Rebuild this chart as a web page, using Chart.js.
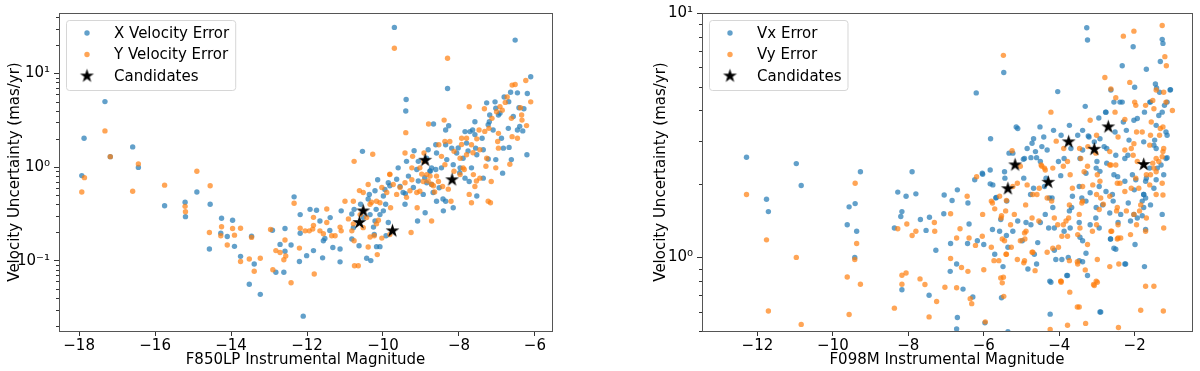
<!DOCTYPE html>
<html>
<head>
<meta charset="utf-8">
<script src="https://cdn.jsdelivr.net/npm/chart.js@4/dist/chart.umd.min.js"></script>
<style>
  html, body { margin: 0; padding: 0; background: #fff; overflow: hidden; }
  #wrap { position: relative; width: 1200px; height: 371px; }
  canvas { position: absolute; top: 0; }
  #c1 { left: 0; }
  #c2 { left: 600px; }
</style>
</head>
<body>
<div id="wrap">
  <canvas id="c1" width="600" height="371"></canvas>
  <canvas id="c2" width="600" height="371"></canvas>
</div>
<script>
const BLUE = 'rgba(31, 119, 180, 0.7)';
const ORANGE = 'rgba(255, 127, 14, 0.7)';
const FONT = "'DejaVu Sans', sans-serif";
const FS = 15;
const SUP = { '-1': '\u207b\u00b9', '0': '\u2070', '1': '\u00b9' };
const Y_TITLE = 'Velocity Uncertainty (mas/yr)';

// ---- left panel: F850LP ----
const f850XTicks = [-18, -16, -14, -12, -10, -8, -6];
const f850Labels = ['X Velocity Error', 'Y Velocity Error'];
const f850Vx = [
  [-17.93,0.81],[-17.87,2.03],[-17.32,5.0],[-17.18,1.29],[-16.59,1.64],[-16.44,0.99],[-15.75,0.386],[-15.21,0.42],
  [-15.2,0.295],[-14.9,0.54],[-14.55,0.40],[-14.57,0.133],[-14.25,0.283],[-14.27,0.196],[-14.1,0.181],[-13.96,0.27],
  [-13.91,0.142],[-13.75,0.111],[-13.46,0.182],[-13.39,0.092],[-13.52,0.056],[-13.23,0.0436],[-12.91,0.211],[-12.71,0.149],
  [-12.58,0.22],[-12.58,0.126],[-12.61,0.075],[-12.82,0.075],[-12.42,0.147],[-12.34,0.48],[-12.2,0.098],[-12.18,0.31],
  [-12.18,0.196],
  [-9.70,31],[-6.52,22.7],[-8.30,6.9],[-9.39,5.26],[-9.40,3.96],[-6.11,9.2],[-6.2,6.1],[-6.21,1.35],[-6.46,6.2],
  [-6.64,6.3],[-6.81,5.6],[-7.05,4.97],[-7.27,4.85],[-6.42,4.3],[-6.29,4.2],[-6.32,2.43],[-6.46,2.49],[-6.7,2.59],
  [-6.96,3.59],[-7.2,3.05],[-7.1,2.49],[-6.88,2.03],[-6.83,1.59],[-6.68,1.62],[-7.03,1.2],[-6.85,0.86],[-7.58,3.05],
  [-7.64,2.49],[-7.39,2.03],[-7.71,2.39],[-7.84,2.39],[-7.8,1.8],[-7.56,1.59],[-7.36,1.53],[-7.23,1.22],[-7.53,1.35],
  [-7.89,1.24],[-8.06,1.41],[-8.19,1.59],[-8.35,1.73],[-8.35,2.49],[-8.67,2.88],[-8.61,1.73],[-8.59,1.41],[-8.32,1.2],
  [-8.15,1.06],[-7.97,0.98],[-7.84,0.76],[-7.67,0.98],[-7.73,0.70],[-7.53,0.49],[-7.36,0.76],[-8.15,0.367],[-8.35,0.43],
  [-8.41,0.34],[-8.89,0.325],[-9.09,0.265],[-8.72,0.65],[-8.85,0.68],[-8.94,0.51],[-8.76,0.90],[-8.72,0.98],[-8.61,0.94],
  [-8.52,0.60],[-8.59,0.43],[-9.11,0.94],[-9.6,0.98],[-9.86,0.68],[-9.55,0.62],[-9.33,0.80],[-9.38,1.15],[-9.18,1.49],
  [-9.07,1.15],[-8.81,1.53],[-8.85,1.24],[-9.41,0.52],[-9.93,0.40],[-9.99,0.34],[-10.08,0.31],[-10.18,0.353],[-10.21,0.265],
  [-10.36,0.51],[-10.59,0.40],[-10.54,1.47],[-10.14,0.73],[-9.95,0.575],[-10.76,0.353],[-10.52,0.288],[-10.34,0.31],
  [-10.23,0.19],[-10.17,0.141],[-10.08,0.141],[-9.92,0.184],[-9.86,0.255],[-10.43,0.106],[-10.32,0.1],[-10.63,0.144],
  [-10.78,0.225],[-10.82,0.17],[-11.1,0.34],[-11.13,0.133],[-11.32,0.138],[-11.39,0.288],[-11.66,0.265],[-11.57,0.163],
  [-11.59,0.107],[-11.83,0.128],[-11.92,0.353],[-11.75,0.345],[-12.01,0.113],[-12.1,0.0255],
  [-6.69,4.99],[-7.03,4.25],[-7.19,3.6],[-6.92,3.76],[-6.57,3.47],[-6.4,2.72],[-7.23,2.83],[-7.58,2.22],[-8.02,1.6],
  [-7.76,1.48],[-8.46,0.98],[-8.42,0.455],[-8.27,2.76],[-6.62,1.2],[-7.98,0.87],
  [-11.4,0.21],[-11.53,0.172],[-10.82,0.315],[-10.39,0.455],[-9.99,0.49],[-9.82,0.63],[-9.64,0.74],[-9.47,0.535],
  [-9.42,0.40],[-9.2,0.605],[-9.07,0.71],[-8.9,0.77],[-8.76,0.91],[-8.68,0.535],[-10.21,0.557],[-10.25,0.228],[-11.13,0.097]
];
const f850Vy = [
  [-17.93,0.54],[-17.86,0.77],[-17.32,2.43],[-17.18,1.29],[-16.59,0.55],[-16.44,1.08],[-15.75,0.64],[-15.21,0.38],
  [-15.2,0.333],[-14.9,0.90],[-14.55,0.63],[-14.57,0.2],[-14.25,0.23],[-14.27,0.184],[-13.96,0.22],[-13.91,0.187],
  [-14.1,0.147],[-13.75,0.222],[-13.75,0.098],[-13.46,0.177],[-13.52,0.104],[-13.39,0.077],[-13.23,0.106],[-12.96,0.215],
  [-12.82,0.128],[-12.71,0.122],[-12.9,0.08],[-12.61,0.102],[-12.58,0.166],[-12.56,0.112],[-12.42,0.058],[-12.34,0.41],
  [-12.2,0.136],[-12.18,0.222],
  [-9.7,18.6],[-8.3,14.5],[-9.4,2.33],[-6.24,8.4],[-6.11,4.97],[-6.6,7.5],[-6.52,7.6],[-6.73,5.6],[-6.78,4.9],
  [-6.86,4.05],[-7.33,4.2],[-6.34,3.17],[-6.22,2.77],[-6.46,2.03],[-6.6,2.11],[-6.62,3.31],[-7.01,3.89],[-7.13,3.31],
  [-7.21,2.59],[-6.96,2.29],[-6.98,1.87],[-6.96,1.59],[-7.03,0.98],[-7.15,0.70],[-7.73,4.4],[-7.47,2.49],[-7.53,2.0],
  [-7.8,2.03],[-7.93,2.03],[-7.67,1.73],[-7.45,1.53],[-7.27,1.24],[-7.29,1.02],[-7.8,1.35],[-7.97,1.24],[-8.13,1.47],
  [-8.24,1.87],[-8.39,3.17],[-8.8,2.88],[-8.53,1.73],[-8.46,1.30],[-8.37,1.06],[-8.13,0.90],[-7.86,0.94],[-7.97,0.83],
  [-7.62,0.83],[-7.73,0.51],[-7.58,0.62],[-7.67,0.415],[-7.23,0.43],[-7.17,0.415],[-7.45,0.76],[-8.21,0.43],[-8.72,0.265],
  [-9.26,0.2],[-9.1,0.367],[-8.67,0.63],[-8.94,0.70],[-9.03,0.55],[-8.76,0.80],[-8.85,0.83],[-8.54,0.70],[-8.43,0.62],
  [-9.24,0.73],[-9.03,0.98],[-9.82,0.83],[-9.73,0.65],[-9.42,0.68],[-9.24,0.98],[-9.22,1.3],[-9.42,1.41],[-8.92,1.15],
  [-8.92,1.41],[-9.64,0.51],[-9.8,0.367],[-10.08,0.415],[-10.17,0.43],[-10.12,0.27],[-10.34,0.40],[-10.39,0.65],
  [-10.62,0.56],[-10.27,1.37],[-10.76,1.15],[-10.78,0.43],[-10.6,0.31],[-10.43,0.288],[-10.52,0.225],[-10.23,0.184],
  [-10.03,0.174],[-9.82,0.19],[-10.15,0.116],[-10.75,0.088],[-10.65,0.088],[-10.76,0.163],[-10.82,0.208],[-11.0,0.43],
  [-11.1,0.208],[-11.26,0.184],[-11.35,0.184],[-11.48,0.255],[-11.66,0.208],[-11.81,0.072],[-11.85,0.217],[-11.83,0.29],
  [-11.94,0.208],[-12.05,0.208],
  [-6.92,4.42],[-6.35,3.6],[-7.32,2.4],[-7.93,1.74],[-8.37,1.88],[-7.63,1.42],[-7.54,0.71],[-7.89,0.98],[-8.64,0.54],
  [-8.28,0.58],
  [-11.48,0.356],[-11.83,0.238],[-11.57,0.194],[-11.13,0.228],[-10.91,0.279],[-10.78,0.247],[-10.3,0.42],[-9.9,0.535],
  [-9.55,0.605],[-9.38,0.474],[-9.29,0.557],[-9.11,0.535],[-8.98,0.84],[-8.81,0.71],[-8.72,0.656],[-8.59,0.80],
  [-9.82,0.84],[-10.03,0.605],[-10.52,0.535],[-10.17,0.247],[-10.34,0.179],[-10.39,0.14],[-6.38,4.3],[-6.66,1.07]
];
const f850Cand = [[-10.52,0.339],[-10.62,0.255],[-9.75,0.208],[-8.89,1.18],[-8.18,0.73]];

// ---- right panel: F098M ----
const f098XTicks = [-12, -10, -8, -6, -4, -2];
const f098Labels = ['Vx Error', 'Vy Error'];
const f098Vx = [
  [-12.29,2.57],[-11.76,1.73],[-11.71,1.54],[-10.97,2.42],[-10.84,1.97],[-9.27,2.24],[-9.41,1.66],[-9.57,1.61],[-9.62,1.36],
  [-9.37,1.28],[-9.42,1.0],[-8.28,1.85],[-8.17,1.54],[-8.2,1.47],[-8.37,1.32],[-8.06,1.78],[-7.9,2.24],[-8.17,0.737],[-7.8,1.82],
  [-7.68,1.43],[-7.53,1.29],[-7.44,1.46],[-7.27,1.07],[-7.45,0.70],[-7.05,1.8],[-6.88,1.14],[-6.7,1.89],[-6.84,1.71],[-6.72,0.94],
  [-6.55,0.742],[-6.7,0.568],[-6.72,0.51],[-6.89,0.877],[-6.29,0.689],[-6.42,1.67],[-6.39,1.37],[-6.43,1.14],[-6.2,4.71],
  [-6.24,2.08],[-6.17,1.17],[-6.0,1.13],[-5.97,0.54],[-6.04,2.21],[-5.82,3.06],[-5.67,1.76],[-5.49,0.917],[-5.47,5.71],
  [-5.45,2.24],[-5.39,1.7],[-5.58,1.28],[-5.71,1.03],[-5.36,0.497],[-5.23,2.67],[-5.14,3.42],[-5.1,1.41],[-5.23,1.28],
  [-4.88,1.39],[-4.83,0.897],[-4.66,1.03],[-4.75,1.36],[-4.92,2.54],[-4.68,3.06],[-4.51,3.42],[-4.41,3.11],[-4.6,2.56],
  [-4.35,2.11],[-4.39,1.95],[-4.26,1.75],[-4.17,1.6],[-4.13,1.32],[-4.22,0.792],[-4.24,0.586],[-4.09,0.98],[-4.04,4.77],
  [-3.95,3.16],[-3.87,2.54],[-3.73,3.47],[-3.69,2.79],[-3.65,1.78],[-3.67,1.6],[-3.87,1.28],[-3.76,1.0],[-3.78,0.843],
  [-3.51,3.16],[-3.38,2.75],[-3.47,1.95],[-3.47,1.39],[-3.38,1.17],[-3.47,0.97],[-3.27,8.7],[-3.25,7.75],[-3.21,3.11],
  [-3.0,2.47],[-2.94,1.95],[-3.03,1.45],[-2.9,0.598],[-3.25,0.843],[-2.77,3.93],[-2.55,4.32],[-2.74,2.79],[-2.55,2.18],
  [-2.59,1.81],[-2.37,1.5],[-2.64,1.19],[-2.5,1.08],[-2.24,0.94],[-2.33,4.32],[-2.04,7.28],[-2.33,6.08],[-2.0,4.97],
  [-1.93,3.7],[-1.76,2.97],[-2.18,2.62],[-2.06,2.18],[-2.01,1.89],[-1.76,1.81],[-1.99,1.13],[-1.74,0.917],[-1.27,1.5],
  [-1.27,7.8],[-1.25,7.51],[-1.32,6.33],[-1.45,5.12],[-1.42,4.93],[-1.05,4.86],[-1.58,4.32],[-1.36,3.81],[-1.14,3.16],
  [-1.14,2.56],[-1.4,2.32],[-1.23,2.18],[-1.49,1.92],
  [-1.06,4.84],[-1.27,3.93],[-1.6,4.32],[-1.74,3.93],[-1.43,3.47],[-1.17,3.26],[-1.47,3.02],[-1.43,2.79],[-1.17,2.54],
  [-1.3,2.39],[-1.69,2.11],[-1.43,2.08],[-1.76,1.81],[-1.58,1.64],[-1.76,1.6],[-1.8,1.48],[-1.71,1.3],[-1.69,5.89],
  [-2.63,4.84],[-2.39,4.32],[-3.31,4.15],[-2.76,3.93],[-2.95,3.72],[-2.3,3.58],[-2.22,3.31],[-2.15,3.02],[-2.92,3.06],
  [-3.38,3.31],[-3.23,3.14],[-2.81,2.84],[-2.5,2.62],[-3.02,2.32],[-3.45,2.54],[-3.29,2.21],[-2.45,2.14],[-2.26,2.05],
  [-2.76,1.86],[-3.18,1.84],[-3.4,1.75],[-3.02,1.6],[-2.17,1.67],[-2.02,1.5],[-2.66,1.52],[-2.44,1.39],[-3.73,1.55],
  [-3.45,1.21],[-2.64,1.19],[-2.55,1.09],[-3.29,1.04],[-3.8,0.843],[-2.92,0.598],[-2.26,0.94],
  [-4.15,3.31],[-5.33,2.67],[-4.85,2.79],[-4.72,2.93],[-4.46,2.84],[-4.32,2.75],[-4.63,2.71],[-4.95,2.52],[-4.75,2.56],
  [-4.5,2.47],[-4.02,2.47],[-3.96,2.16],[-5.83,2.28],[-6.03,2.19],[-5.83,2.0],[-5.68,1.75],[-5.44,2.11],[-4.94,2.11],
  [-4.68,1.92],[-4.76,1.81],[-4.5,1.39],[-4.37,1.5],[-4.19,1.75],[-4.28,1.32],[-5.55,1.43],[-5.4,1.23],[-4.98,1.17],
  [-4.57,1.15],[-4.6,0.94],[-4.13,1.07],[-5.77,1.3],[-5.53,0.684],[-4.25,0.80],[-7.06,1.51],
  [-1.34,4.74],[-1.21,4.19],[-1.6,2.32],[-1.71,1.75],[-2.02,3.64],[-2.52,3.26],[-2.26,2.54],[-2.74,2.43],[-2.92,2.25],
  [-1.97,2.08],[-2.57,1.7],[-3.18,1.36],[-3.71,1.32],[-3.38,0.96],[-3.93,0.98],[-5.76,1.98],[-5.36,1.1],[-5.1,3.37],
  [-3.29,1.7],[-3.07,2.97],[-2.85,1.64],[-2.94,1.32],[-1.8,1.7],[-1.93,1.45],[-2.11,1.41],[-1.49,2.88],[-1.71,2.05],
  [-1.14,4.32]
];
const f098Vy = [
  [-12.29,1.81],[-11.76,1.18],[-11.71,0.604],[-10.97,1.0],[-10.84,0.532],[-9.27,0.777],[-9.41,2.01],[-9.62,0.832],
  [-9.57,0.584],[-9.37,1.14],[-9.42,0.98],[-8.28,1.31],[-8.04,1.37],[-7.9,1.23],[-8.17,0.845],[-8.06,0.863],[-8.17,0.777],
  [-8.37,0.62],[-7.8,1.28],
  [-7.31,1.39],[-7.3,1.28],[-7.69,0.817],[-7.56,0.775],[-7.25,0.66],[-7.45,0.571],[-6.88,1.51],[-7.03,0.755],[-6.72,0.751],
  [-6.72,1.2],[-6.63,1.31],[-6.59,0.91],[-6.88,0.99],[-6.42,0.877],[-6.36,0.678],[-6.32,0.647],[-6.39,1.2],[-6.44,1.78],
  [-6.19,2.14],[-6.22,1.12],[-6.0,0.89],[-5.96,0.545],[-6.04,1.22],[-5.8,1.7],[-5.71,1.58],[-5.48,0.83],[-5.47,0.693],
  [-5.48,6.71],[-5.42,1.55],[-5.54,1.45],[-5.45,1.17],[-5.41,1.03],[-5.6,0.97],[-5.23,1.95],[-5.19,1.5],[-5.03,1.17],
  [-4.88,1.28],[-4.92,0.97],[-4.7,1.05],[-4.64,0.883],[-4.7,1.81],[-4.48,2.39],[-4.39,2.32],[-4.53,1.92],[-4.22,3.93],
  [-4.2,1.7],[-4.13,1.45],[-4.24,0.507],[-4.17,1.09],[-3.95,0.792],[-3.88,2.79],[-3.78,2.47],[-3.71,2.18],[-3.65,1.92],
  [-3.73,1.64],[-3.82,1.41],[-3.78,1.22],[-3.73,0.97],[-3.72,0.721],[-3.78,0.528],[-3.43,2.54],[-3.34,2.24],[-3.38,1.7],
  [-3.47,1.5],[-3.51,1.24],[-3.51,0.94],[-3.47,0.627],[-3.3,0.537],[-3.18,3.64],[-2.99,2.18],[-2.9,1.75],[-2.94,1.57],
  [-3.12,1.28],[-2.99,0.98],[-2.99,0.792],[-2.79,5.45],[-2.63,4.89],[-2.5,4.5],[-2.63,2.39],[-2.46,2.01],[-2.46,1.6],
  [-2.43,0.517],[-2.3,8.04],[-2.02,8.43],[-2.13,5.2],[-1.97,4.19],[-1.8,3.26],[-2.09,2.79],[-1.93,2.47],[-1.97,2.11],
  [-1.84,1.64],[-2.02,1.5],[-2.11,1.24],[-1.71,1.28],[-1.71,0.762],[-1.49,0.762],[-1.84,0.608],[-1.23,1.32],[-1.25,1.8],
  [-1.27,8.89],[-1.2,6.63],[-1.16,6.08],[-1.23,4.74],[-1.0,3.99],[-1.49,4.06],[-1.32,3.37],[-1.58,3.16],[-1.23,2.79],
  [-1.27,2.58],[-1.27,2.01],
  [-1.43,4.84],[-1.17,4.32],[-1.52,4.39],[-1.71,4.19],[-1.56,3.58],[-1.25,3.42],[-1.34,3.16],[-1.6,2.88],[-1.25,2.71],
  [-1.43,2.54],[-1.52,2.43],[-1.43,2.24],[-1.6,1.98],[-1.43,1.81],[-1.87,1.55],[-1.69,1.45],[-1.95,1.36],[-1.24,0.604],
  [-2.0,4.32],[-1.95,3.26],[-2.02,2.92],[-2.44,3.11],[-3.46,2.79],[-2.66,2.71],[-2.26,2.75],[-2.04,2.62],[-2.66,2.39],
  [-3.38,1.95],[-2.92,2.05],[-2.66,1.78],[-3.4,1.67],[-2.48,1.55],[-3.01,1.36],[-3.45,1.32],[-3.93,1.22],[-2.61,1.28],
  [-2.44,1.2],[-3.52,0.96],[-3.31,0.889],[-3.95,0.80],[-3.09,0.775],[-3.52,0.627],[-2.66,0.917],
  [-5.25,2.73],[-4.08,2.99],[-4.46,2.36],[-4.37,2.28],[-4.17,2.32],[-3.89,2.36],[-5.77,1.67],[-5.4,1.71],[-5.03,2.36],
  [-4.85,1.98],[-5.11,2.01],[-4.89,1.64],[-4.59,1.81],[-4.54,1.41],[-4.72,1.45],[-4.32,1.75],[-3.89,1.36],[-5.53,1.48],
  [-5.29,1.36],[-4.92,1.26],[-4.91,1.19],[-4.72,1.05],[-4.32,1.05],[-4.02,1.1],[-5.51,1.19],[-5.27,1.1],[-5.4,1.03],
  [-5.8,1.1],[-6.03,1.5],[-5.73,0.97],[-5.11,0.98],[-4.94,0.95],[-5.55,0.824],[-5.51,0.787],[-3.96,0.80],
  [-1.69,2.18],[-2.26,3.67],[-2.52,3.93],[-3.01,3.16],[-3.24,2.84],[-2.5,2.39],[-3.25,2.36],[-3.11,1.98],[-2.39,2.01],
  [-2.09,1.92],[-2.26,1.86],[-3.01,1.81],[-2.83,1.65],[-2.22,1.55],[-2.44,1.36],[-3.75,1.45],[-2.37,1.2],[-3.02,0.80],
  [-5.58,1.78],[-3.25,1.13],[-3.03,2.67],[-3.07,0.768],[-2.63,1.28],[-2.46,1.19],[-2.42,0.94],[-1.89,1.92],[-1.49,2.32],
  [-1.58,2.18],[-1.36,2.47],[-4.04,1.36]
];
const f098Cand = [[-5.36,1.91],[-5.17,2.39],[-4.29,2.03],[-3.75,2.97],[-3.07,2.77],[-2.7,3.42],[-1.76,2.4]];

// filled five-point star, like the matplotlib '*' marker
function starImage(r) {
  const c = document.createElement('canvas');
  c.width = c.height = Math.ceil(r * 2) + 2;
  const ctx = c.getContext('2d');
  const cx = c.width / 2, cy = c.height / 2;
  ctx.beginPath();
  for (let i = 0; i < 10; i++) {
    const rad = i % 2 ? r * 0.382 : r;
    const a = -Math.PI / 2 + (i * Math.PI) / 5;
    ctx.lineTo(cx + rad * Math.cos(a), cy + rad * Math.sin(a));
  }
  ctx.closePath();
  ctx.fillStyle = '#000';
  ctx.fill();
  return c;
}
const STAR = starImage(7.3);

const framePlugin = {
  id: 'frame',
  afterDraw(chart) {
    const { ctx, chartArea: a } = chart;
    const y = chart.scales.y;
    ctx.save();
    ctx.strokeStyle = '#333';
    ctx.lineWidth = 1;
    // minor log ticks
    const lo = Math.floor(Math.log10(y.min)), hi = Math.ceil(Math.log10(y.max));
    ctx.beginPath();
    for (let k = lo; k <= hi; k++) {
      for (let m = 2; m <= 9; m++) {
        const v = m * Math.pow(10, k);
        if (v < y.min || v > y.max) continue;
        const py = Math.round(y.getPixelForValue(v)) + 0.5;
        ctx.moveTo(a.left - 3, py);
        ctx.lineTo(a.left, py);
      }
    }
    ctx.stroke();
    ctx.strokeStyle = '#555';
    ctx.strokeRect(Math.round(a.left) + 0.5, Math.round(a.top) + 0.5, Math.round(a.right - a.left), Math.round(a.bottom - a.top));
    ctx.restore();
  },
};

const legendPlugin = {
  id: 'boxLegend',
  afterDraw(chart) {
    const { ctx, chartArea: a } = chart;
    const sets = chart.data.datasets;
    ctx.save();
    ctx.font = `${FS}px ${FONT}`;
    const tw = Math.max(...sets.map((d) => ctx.measureText(d.label).width));
    const x0 = a.left + 7, y0 = a.top + 7;
    const w = 48 + tw + 6, h = 70;
    ctx.beginPath();
    ctx.roundRect(x0 + 0.5, y0 + 0.5, w, h, 3);
    ctx.fillStyle = 'rgba(255,255,255,0.8)';
    ctx.fill();
    ctx.strokeStyle = '#d6d6d6';
    ctx.lineWidth = 1;
    ctx.stroke();
    ctx.textBaseline = 'middle';
    sets.forEach((d, i) => {
      const cy = y0 + 13 + i * 21.5;
      const mx = x0 + 21;
      if (d.pointStyle === STAR) {
        ctx.drawImage(STAR, mx - STAR.width / 2, cy - STAR.height / 2);
      } else {
        ctx.beginPath();
        ctx.arc(mx, cy, d.pointRadius, 0, Math.PI * 2);
        ctx.fillStyle = d.backgroundColor;
        ctx.fill();
      }
      ctx.fillStyle = '#000';
      ctx.fillText(d.label, x0 + 48, cy + 1);
    });
    ctx.restore();
  },
};

const minus = (v) => String(v).replace('-', '\u2212');

function panel(id, o) {
  const font = { family: FONT, size: FS };
  return new Chart(document.getElementById(id), {
    type: 'scatter',
    data: {
      datasets: [
        { label: o.labels[0], data: o.vx, backgroundColor: BLUE, borderWidth: 0, pointRadius: 2.7, order: 2 },
        { label: o.labels[1], data: o.vy, backgroundColor: ORANGE, borderWidth: 0, pointRadius: 2.7, order: 1 },
        { label: 'Candidates', data: o.cand, pointStyle: STAR, pointRadius: 7, order: 0 },
      ],
    },
    options: {
      responsive: false,
      animation: false,
      devicePixelRatio: 1,
      layout: { padding: { top: 10, right: o.padRight, left: o.padLeft, bottom: 0 } },
      plugins: { legend: { display: false }, tooltip: { enabled: false } },
      scales: {
        x: {
          type: 'linear',
          min: o.xMin,
          max: o.xMax,
          afterFit: (s) => { s.height = 40; },
          afterBuildTicks: (s) => { s.ticks = o.xTicks.map((v) => ({ value: v })); },
          ticks: { font, color: '#000', padding: 1, maxRotation: 0, callback: (v) => minus(v) },
          grid: { drawOnChartArea: false, drawTicks: true, tickLength: 5, tickColor: '#333' },
          border: { display: false },
          title: { display: true, text: o.xTitle, font, color: '#000', padding: { top: 0, bottom: 2 } },
        },
        y: {
          type: 'logarithmic',
          min: o.yMin,
          max: o.yMax,
          afterFit: (s) => { s.width = o.yWidth; },
          afterBuildTicks: (s) => {
            const out = [];
            for (let k = -3; k <= 3; k++) {
              const v = Math.pow(10, k);
              if (v >= o.yMin * 0.999 && v <= o.yMax * 1.001) out.push({ value: v });
            }
            s.ticks = out;
          },
          ticks: {
            font, color: '#000', padding: 4,
            callback: (v) => '10' + SUP[String(Math.round(Math.log10(v)))],
          },
          grid: { drawOnChartArea: false, drawTicks: true, tickLength: 5, tickColor: '#333' },
          border: { display: false },
          title: { display: true, text: Y_TITLE, font, color: '#000', padding: { top: 6, bottom: 0 } },
        },
      },
    },
    plugins: [framePlugin, legendPlugin],
  });
}

panel('c1', {
  labels: f850Labels, vx: f850Vx, vy: f850Vy, cand: f850Cand, xTicks: f850XTicks,
  xMin: -18.53, xMax: -5.55, yMin: 0.0177, yMax: 44.2,
  padLeft: 0, padRight: 48, yWidth: 59, xTitle: 'F850LP Instrumental Magnitude',
});
panel('c2', {
  labels: f098Labels, vx: f098Vx, vy: f098Vy, cand: f098Cand, xTicks: f098XTicks,
  xMin: -13.47, xMax: -0.48, yMin: 0.5, yMax: 10,
  padLeft: 46, padRight: 4, yWidth: 56, xTitle: 'F098M Instrumental Magnitude',
});
</script>
</body>
</html>
